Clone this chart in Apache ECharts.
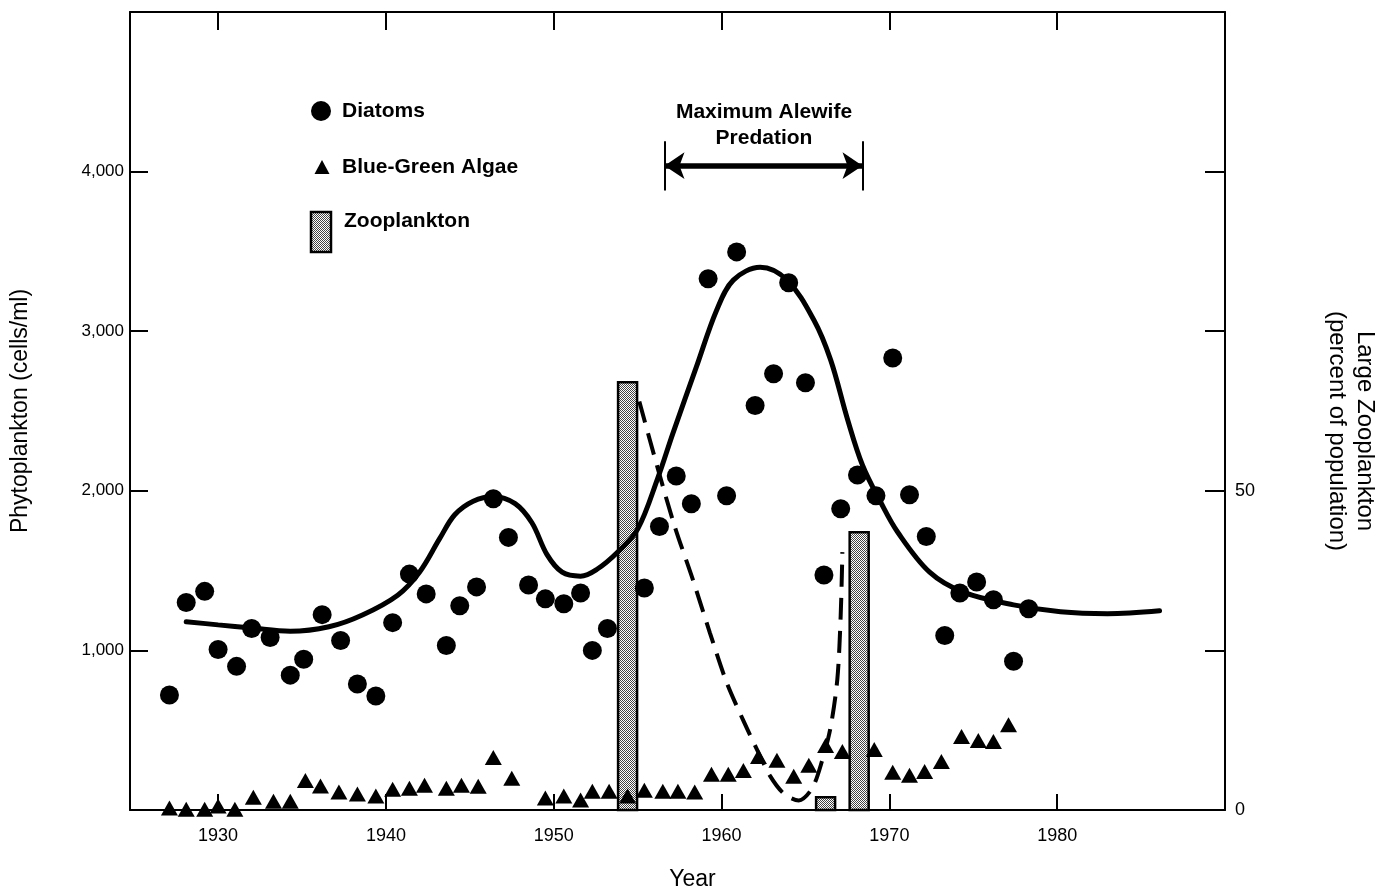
<!DOCTYPE html>
<html>
<head>
<meta charset="utf-8">
<script src="https://cdn.jsdelivr.net/npm/echarts@6/dist/echarts.min.js"></script>
<style>
html,body{margin:0;padding:0;background:#fff;overflow:hidden;}
#chart{width:1392px;height:896px;}
</style>
</head>
<body>
<div id="chart"></div>
<script>
// ---- data ----
const yearTicks = [1930, 1940, 1950, 1960, 1970, 1980];

const diatomYears = [1927.1,1928.1,1929.2,1930.0,1931.1,1932.0,1933.1,1934.3,1935.1,1936.2,1937.3,1938.3,1939.4,1940.4,1941.4,1942.4,1943.6,1944.4,1945.4,1946.4,1947.3,1948.5,1949.5,1950.6,1951.6,1952.3,1953.2,1955.4,1956.3,1957.3,1958.2,1959.2,1960.3,1960.9,1962.0,1963.1,1964.0,1965.0,1966.1,1967.1,1968.1,1969.2,1970.2,1971.2,1972.2,1973.3,1974.2,1975.2,1976.2,1977.4,1978.3];
const diatomValues = [720,1300,1370,1006,900,1137,1081,845,944,1224,1062,789,714,1174,1478,1354,1031,1280,1398,1950,1708,1410,1323,1292,1360,1000,1137,1391,1776,2093,1919,3329,1969,3497,2534,2733,3304,2677,1472,1888,2099,1969,2832,1975,1714,1093,1360,1429,1317,932,1261];

const algaeYears = [1927.1,1928.1,1929.2,1930.0,1931.0,1932.1,1933.3,1934.3,1935.2,1936.1,1937.2,1938.3,1939.4,1940.4,1941.4,1942.3,1943.6,1944.5,1945.5,1946.4,1947.5,1949.5,1950.6,1951.6,1952.3,1953.3,1954.4,1955.4,1956.5,1957.4,1958.4,1959.4,1960.4,1961.3,1962.2,1963.3,1964.3,1965.2,1966.2,1967.2,1969.1,1970.2,1971.2,1972.1,1973.1,1974.3,1975.3,1976.2,1977.1];
const algaeValues = [12,5,5,25,5,80,55,55,185,150,112,100,87,130,137,155,137,155,149,329,199,75,87,62,118,118,87,124,118,118,112,224,224,248,335,311,211,280,404,366,379,236,217,242,304,460,435,429,534];

const curveYears = [1928.1,1930,1932,1934.3,1936.6,1938.6,1940.7,1942.0,1943.2,1944.1,1945.2,1946.4,1947.7,1948.7,1949.6,1950.5,1951.6,1952.6,1953.8,1955.0,1956.2,1957.1,1958.5,1959.7,1960.7,1962.3,1963.9,1965.5,1966.5,1967.5,1968.4,1969.5,1970.5,1972.4,1974.4,1977.4,1980.2,1983.0,1986.1];
const curveValues = [1180,1160,1140,1120,1148,1222,1346,1490,1700,1850,1935,1965,1920,1800,1600,1490,1465,1510,1615,1760,2080,2360,2776,3130,3320,3400,3320,3070,2820,2450,2160,1925,1740,1490,1365,1285,1242,1230,1248];

const zooYears = [1954.4, 1966.2, 1968.2];
const zooValues = [67, 2, 43.5];

const zooTrendYears = [1955.1,1956.2,1957.2,1958.3,1959.3,1960.3,1961.3,1962.2,1962.9,1963.7,1964.6,1965.4,1966.0,1966.5,1966.9,1967.1,1967.2];
const zooTrendValues = [64,53.5,44.5,36,27.8,20,14,9,5.3,2.6,1.5,3.4,7.8,13,20.5,30.5,40.4];

const predationStart = 1956.6, predationEnd = 1968.4;

// ---- helpers ----
const zip = (a, b) => a.map((v, i) => [v, b[i]]);
const FONT = "'Liberation Sans', Arial, Helvetica, sans-serif";

function makePattern() {
  const c = document.createElement('canvas');
  c.width = 2; c.height = 2;
  const g = c.getContext('2d');
  g.fillStyle = '#ffffff'; g.fillRect(0, 0, 2, 2);
  g.fillStyle = '#444444'; g.fillRect(0, 0, 1, 1); g.fillRect(1, 1, 1, 1);
  return c;
}
const stipple = { image: makePattern(), repeat: 'repeat' };

const chart = echarts.init(document.getElementById('chart'), null, { renderer: 'canvas', width: 1392, height: 896 });

const axisLineStyle = { color: '#000', width: 2 };
const thinLine = { color: '#000', width: 2, type: 'solid' };

const option = {
  animation: false,
  backgroundColor: '#fff',
  textStyle: { fontFamily: FONT, color: '#000' },
  grid: { left: 130, top: 12, width: 1095, height: 805, containLabel: false },
  xAxis: [
    {
      type: 'value', min: 1924.75, max: 1990, position: 'bottom',
      name: 'Year', nameLocation: 'middle', nameGap: 58,
      nameTextStyle: { fontSize: 23, color: '#000', fontFamily: FONT, padding: [0, 0, 0, 30] },
      axisLine: { show: true, lineStyle: axisLineStyle },
      axisTick: { show: true, inside: true, length: 16, lineStyle: axisLineStyle, customValues: yearTicks },
      axisLabel: { show: true, fontSize: 18, color: '#000', margin: 17, fontFamily: FONT, customValues: yearTicks, formatter: v => String(v) },
      splitLine: { show: false }
    },
    {
      type: 'value', min: 1924.75, max: 1990, position: 'top',
      axisLine: { show: true, onZero: false, lineStyle: axisLineStyle },
      axisTick: { show: true, inside: true, length: 18, lineStyle: axisLineStyle, customValues: yearTicks },
      axisLabel: { show: false },
      splitLine: { show: false }
    }
  ],
  yAxis: [
    {
      type: 'value', min: 0, max: 5000, interval: 1000, position: 'left',
      name: 'Phytoplankton (cells/ml)', nameLocation: 'middle', nameGap: 98, nameRotate: 90,
      nameTextStyle: { fontSize: 23, color: '#000', fontFamily: FONT },
      axisLine: { show: true, lineStyle: axisLineStyle },
      axisTick: { show: true, inside: true, length: 18, lineStyle: axisLineStyle },
      axisLabel: {
        fontSize: 17, color: '#000', margin: 6, fontFamily: FONT,
        formatter: v => (v === 0 || v === 5000) ? '' : v.toLocaleString('en-US')
      },
      splitLine: { show: false }
    },
    {
      type: 'value', min: 0, max: 125, interval: 25, position: 'right',
      name: 'Large Zooplankton\n(percent of population)', nameLocation: 'middle', nameGap: 98, nameRotate: -90,
      nameTextStyle: { fontSize: 24, color: '#000', fontFamily: FONT, lineHeight: 28, padding: [0, 0, 0, 40] },
      axisLine: { show: true, lineStyle: axisLineStyle },
      axisTick: { show: true, inside: true, length: 20, lineStyle: axisLineStyle },
      axisLabel: {
        fontSize: 18, color: '#000', margin: 10, fontFamily: FONT,
        formatter: v => (v === 0 || v === 50) ? String(v) : ''
      },
      splitLine: { show: false }
    }
  ],
  series: [
    {
      name: 'Zooplankton', type: 'custom', xAxisIndex: 0, yAxisIndex: 1, z: 1,
      data: zip(zooYears, zooValues),
      encode: { x: 0, y: 1 },
      renderItem: (params, api) => {
        const top = api.coord([api.value(0), api.value(1)]);
        const base = api.coord([api.value(0), 0]);
        const w = 19;
        return {
          type: 'rect',
          shape: { x: top[0] - w / 2, y: top[1], width: w, height: base[1] - top[1] },
          style: { fill: stipple, stroke: '#000', lineWidth: 2.5 }
        };
      }
    },
    {
      name: 'Zooplankton trend', type: 'line', xAxisIndex: 0, yAxisIndex: 1, z: 3,
      data: zip(zooTrendYears, zooTrendValues),
      smooth: 0.3, showSymbol: false, symbol: 'none',
      lineStyle: { color: '#000', width: 4, type: [22, 11] }
    },
    {
      name: 'Phytoplankton trend', type: 'line', xAxisIndex: 0, yAxisIndex: 0, z: 4,
      data: zip(curveYears, curveValues),
      smooth: 0.35, showSymbol: false, symbol: 'none',
      lineStyle: { color: '#000', width: 5, cap: 'round' }
    },
    {
      name: 'Blue-Green Algae', type: 'scatter', xAxisIndex: 0, yAxisIndex: 0, z: 5,
      data: zip(algaeYears, algaeValues),
      symbol: 'triangle', symbolSize: [17, 15],
      itemStyle: { color: '#000', opacity: 1 }
    },
    {
      name: 'Diatoms', type: 'scatter', xAxisIndex: 0, yAxisIndex: 0, z: 6,
      data: zip(diatomYears, diatomValues),
      symbol: 'circle', symbolSize: 19,
      itemStyle: { color: '#000', opacity: 1 },
      markLine: {
        silent: true, animation: false,
        label: { show: false },
        data: [
          [{ coord: [predationStart, 4037], symbol: 'arrow', symbolSize: 20 },
           { coord: [predationEnd, 4037], symbol: 'arrow', symbolSize: 20 }],
          [{ coord: [predationStart, 3882], symbol: 'none', lineStyle: thinLine }, { coord: [predationStart, 4190], symbol: 'none' }],
          [{ coord: [predationEnd, 3882], symbol: 'none', lineStyle: thinLine }, { coord: [predationEnd, 4190], symbol: 'none' }]
        ],
        lineStyle: { color: '#000', width: 5.5, type: 'solid' },
        emphasis: { disabled: true }
      }
    }
  ],
  graphic: [
    { type: 'circle', shape: { cx: 321, cy: 111, r: 10 }, style: { fill: '#000' } },
    { type: 'text', x: 342, y: 111, style: { text: 'Diatoms', fontSize: 21, fontWeight: 'bold', fontFamily: FONT, fill: '#000', verticalAlign: 'middle' } },
    { type: 'polygon', shape: { points: [[322, 160], [329.5, 174], [314.5, 174]] }, style: { fill: '#000' } },
    { type: 'text', x: 342, y: 167, style: { text: 'Blue-Green Algae', fontSize: 21, fontWeight: 'bold', fontFamily: FONT, fill: '#000', verticalAlign: 'middle' } },
    { type: 'rect', shape: { x: 311, y: 212, width: 20, height: 40 }, style: { fill: stipple, stroke: '#000', lineWidth: 2.5 } },
    { type: 'text', x: 344, y: 221, style: { text: 'Zooplankton', fontSize: 21, fontWeight: 'bold', fontFamily: FONT, fill: '#000', verticalAlign: 'middle' } },
    { type: 'text', x: 764, y: 112, style: { text: 'Maximum Alewife', fontSize: 21, fontWeight: 'bold', fontFamily: FONT, fill: '#000', align: 'center', verticalAlign: 'middle' } },
    { type: 'text', x: 764, y: 138, style: { text: 'Predation', fontSize: 21, fontWeight: 'bold', fontFamily: FONT, fill: '#000', align: 'center', verticalAlign: 'middle' } }
  ]
};

chart.setOption(option);
</script>
</body>
</html>
